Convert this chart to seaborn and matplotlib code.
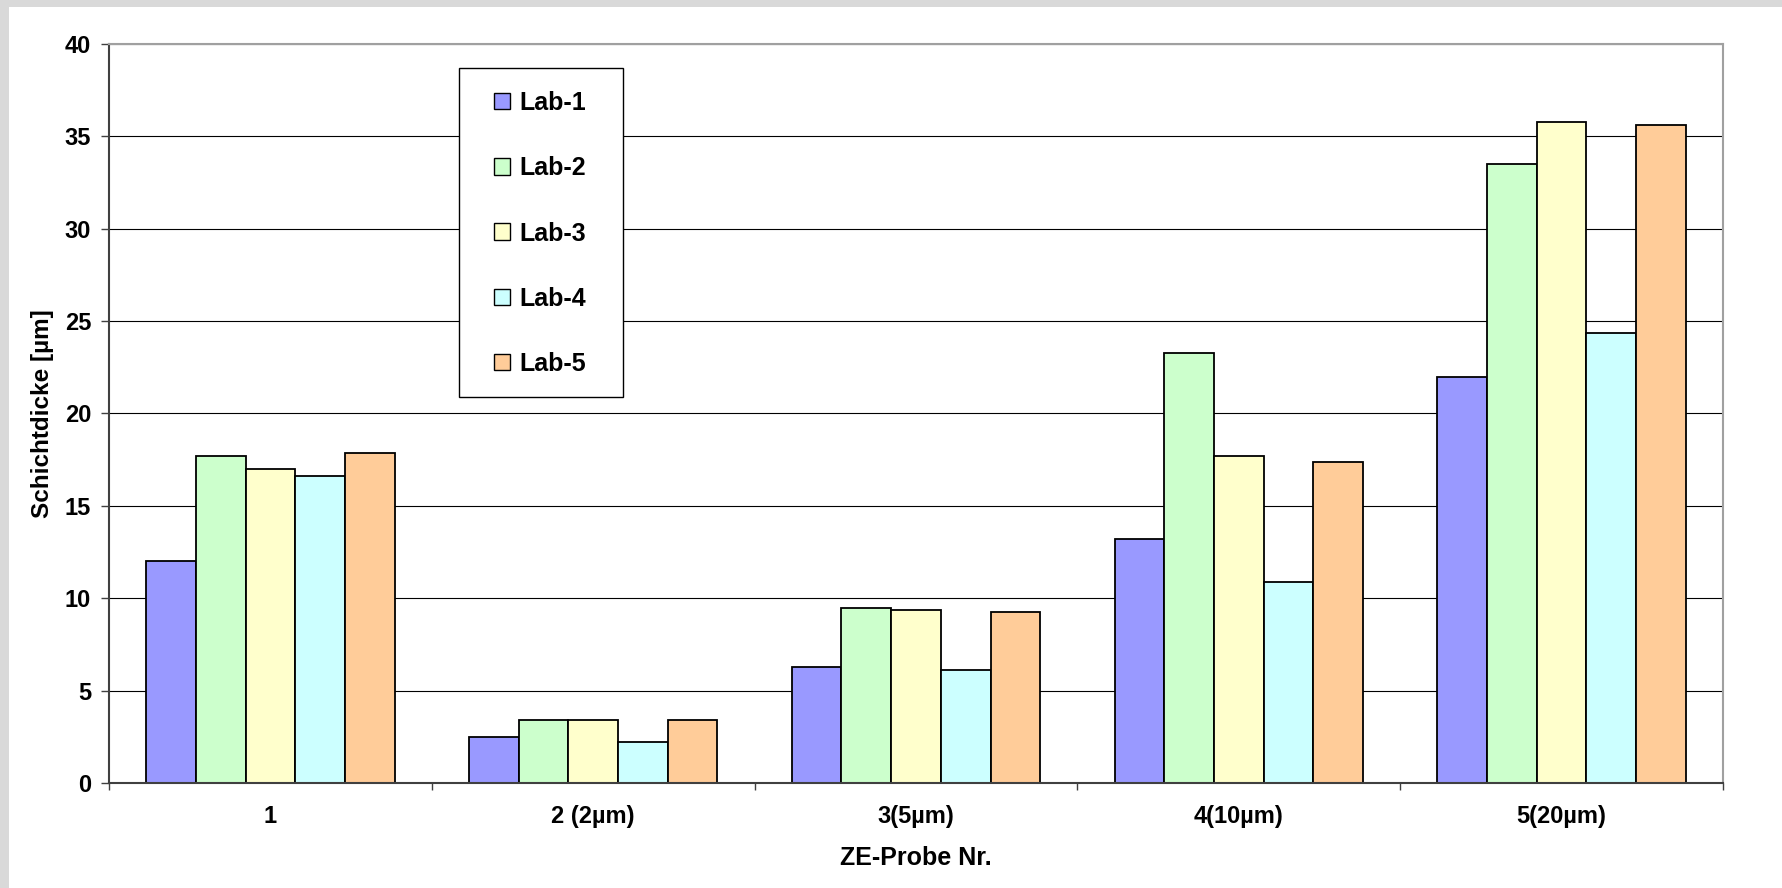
import numpy as np
import pandas as pd
import matplotlib
matplotlib.use("Agg")
import matplotlib.pyplot as plt
import seaborn as sns
from matplotlib.patches import Rectangle

# Layer thickness per sample and lab
samples = ["1", "2 (2µm)", "3(5µm)", "4(10µm)", "5(20µm)"]
labs = ["Lab-1", "Lab-2", "Lab-3", "Lab-4", "Lab-5"]
lab1 = [12.0, 2.5, 6.3, 13.2, 22.0]
lab2 = [17.7, 3.43, 9.45, 23.3, 33.5]
lab3 = [17.0, 3.43, 9.37, 17.7, 35.8]
lab4 = [16.6, 2.22, 6.13, 10.9, 24.35]
lab5 = [17.87, 3.43, 9.28, 17.38, 35.6]
colors = ["#9999FF", "#CCFFCC", "#FFFFCC", "#CCFFFF", "#FFCC99"]

df = pd.DataFrame({
    "Probe": samples * len(labs),
    "Lab": np.repeat(labs, len(samples)),
    "Schichtdicke": lab1 + lab2 + lab3 + lab4 + lab5,
})

sns.set_theme(style="white")
plt.rcParams["font.family"] = ["Liberation Sans", "DejaVu Sans"]
plt.rcParams["font.weight"] = "bold"
plt.rcParams["text.color"] = "black"
plt.rcParams["axes.labelcolor"] = "black"
plt.rcParams["xtick.color"] = "black"
plt.rcParams["ytick.color"] = "black"

W, H = 1783, 888
fig = plt.figure(figsize=(W / 100, H / 100), dpi=100, facecolor="#D9D9D9")
fig.patches.append(Rectangle((9 / W, 0), 1, 1 - 7 / H, transform=fig.transFigure,
                             facecolor="white", edgecolor="none", zorder=-10))

ax = fig.add_axes([109 / W, 1 - 783 / H, 1614 / W, 739 / H])
ax.set_axisbelow(True)

sns.barplot(data=df, x="Probe", y="Schichtdicke", hue="Lab", palette=colors,
            saturation=1, width=0.77, edgecolor="black", linewidth=1.3,
            errorbar=None, ax=ax)

ax.set_xlim(-0.5, 4.5)
ax.set_ylim(0, 40)
ax.set_yticks(range(0, 41, 5))
ax.set_xticks(range(len(samples)))
ax.set_xticklabels(samples)
ax.set_xticks(np.arange(-0.5, len(samples), 1), minor=True)

ax.yaxis.grid(True, color="black", lw=0.8)
ax.xaxis.grid(False)

ax.tick_params(axis="x", which="major", length=0, pad=16, labelsize=17,
               labelcolor="black")
ax.tick_params(axis="x", which="minor", bottom=True, length=5, width=1,
               direction="out", color="#404040")
ax.tick_params(axis="y", left=True, length=5.8, width=1, direction="out",
               pad=7, labelsize=17, color="#404040", labelcolor="black")
for t in ax.get_xticklabels() + ax.get_yticklabels():
    t.set_fontweight("bold")

for side in ("left", "bottom"):
    ax.spines[side].set_color("#404040")
    ax.spines[side].set_linewidth(1.5)
for side in ("top", "right"):
    ax.spines[side].set_color("#A0A0A0")
    ax.spines[side].set_linewidth(1.5)

ax.set_xlabel("ZE-Probe Nr.", fontsize=18, fontweight="bold", labelpad=13,
              color="black")
ax.set_ylabel("Schichtdicke [µm]", fontsize=17.5, fontweight="bold", labelpad=8,
              color="black")

# Legend box with entries spread vertically
old = ax.get_legend()
handles = old.legend_handles
labels = [t.get_text() for t in old.get_texts()]
old.remove()
for h in handles:
    h.set_edgecolor("black")
    h.set_linewidth(1.0)

frame = Rectangle((0.2169, 0.5223), 0.1016, 0.4452, transform=ax.transAxes,
                  facecolor="white", edgecolor="black", lw=1.0, zorder=4,
                  clip_on=False)
ax.add_patch(frame)
leg = ax.legend(handles, labels, loc="upper left", bbox_to_anchor=(0.2385, 0.9364),
                frameon=False, prop={"size": 18, "weight": "bold"},
                labelspacing=1.65, handlelength=0.64, handleheight=0.64,
                handletextpad=0.36, borderpad=0, borderaxespad=0,
                labelcolor="black")
leg.set_zorder(5)

fig.savefig("out.png", dpi=100, facecolor=fig.get_facecolor())
